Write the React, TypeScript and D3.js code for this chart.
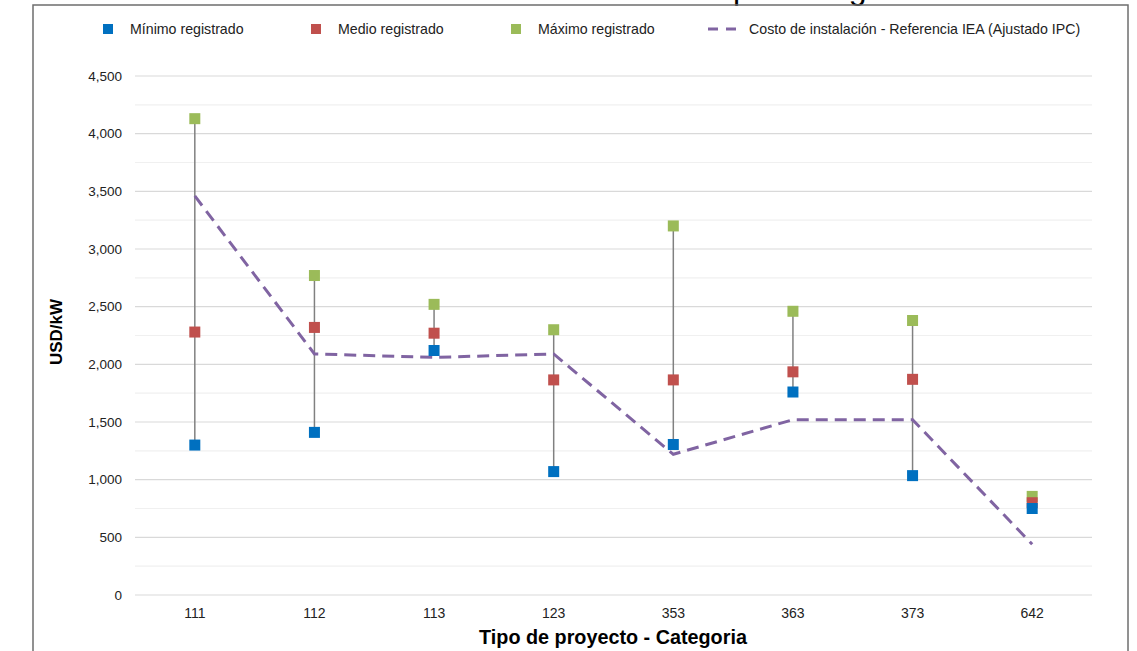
import React from "react";
import * as d3 from "d3";

const categories = ["111", "112", "113", "123", "353", "363", "373", "642"];
const minimo = [1300, 1410, 2120, 1070, 1305, 1760, 1035, 750];
const medio = [2280, 2320, 2270, 1865, 1865, 1935, 1870, 800];
const maximo = [4130, 2770, 2520, 2300, 3200, 2460, 2380, 855];
const iea = [3460, 2090, 2060, 2090, 1220, 1520, 1520, 440];
const yTicks = [0, 500, 1000, 1500, 2000, 2500, 3000, 3500, 4000, 4500];
const minorTicks = [250, 750, 1250, 1750, 2250, 2750, 3250, 3750, 4250];

const W = 1137;
const H = 651;
const FONT = "'Liberation Sans', Arial, sans-serif";
const BLUE = "#0070C0";
const RED = "#C0504D";
const GREEN = "#9BBB59";
const PURPLE = "#8064A2";

export default function App() {
  const x = d3.scaleBand<string>().domain(categories).range([135, 1092]);
  const y = d3.scaleLinear().domain([0, 4500]).range([595, 76]);
  const cx = (c: string) => (x(c) as number) + x.bandwidth() / 2;
  const line = d3
    .line<number>()
    .x((_, i) => cx(categories[i]))
    .y((d) => y(d));
  const ms = 11;
  const fmt = d3.format(",");

  const legend = [
    { label: "Mínimo registrado", color: BLUE, mx: 108, tx: 130 },
    { label: "Medio registrado", color: RED, mx: 316, tx: 338 },
    { label: "Máximo registrado", color: GREEN, mx: 516, tx: 538 },
  ];

  return (
    <svg
      width={W}
      height={H}
      style={{ position: "absolute", left: 0, top: 0, display: "block", background: "#fff" }}
      fontFamily={FONT}
    >
      <rect x={0} y={0} width={W} height={H} fill="#fff" />
      <text x={436} y={-1.5} fontSize={32} fill="#000">
        Costo de instalación por categoría
      </text>
      <rect x={33} y={5} width={1095} height={700} fill="none" stroke="#6e6e6e" strokeWidth={1.5} />

      {minorTicks.map((t) => (
        <line key={"m" + t} x1={135} x2={1092} y1={y(t)} y2={y(t)} stroke="#f0f0f0" strokeWidth={1.2} />
      ))}
      {yTicks.map((t) => (
        <g key={t}>
          <line x1={135} x2={1092} y1={y(t)} y2={y(t)} stroke="#d9d9d9" strokeWidth={1.2} />
          <text x={122} y={y(t)} dy="0.35em" textAnchor="end" fontSize={13.5} fill="#222">
            {fmt(t)}
          </text>
        </g>
      ))}
      {categories.map((c) => (
        <text key={c} x={cx(c)} y={618} textAnchor="middle" fontSize={14} fill="#222">
          {c}
        </text>
      ))}

      {categories.map((c, i) => (
        <line
          key={"v" + c}
          x1={cx(c)}
          x2={cx(c)}
          y1={y(minimo[i])}
          y2={y(maximo[i])}
          stroke="#808080"
          strokeWidth={1.5}
        />
      ))}

      <path d={line(iea) as string} fill="none" stroke={PURPLE} strokeWidth={3} strokeDasharray="12,7" />

      {[
        { data: maximo, color: GREEN },
        { data: medio, color: RED },
        { data: minimo, color: BLUE },
      ].map((s) =>
        categories.map((c, i) => (
          <rect
            key={s.color + c}
            x={cx(c) - ms / 2}
            y={y(s.data[i]) - ms / 2}
            width={ms}
            height={ms}
            fill={s.color}
          />
        ))
      )}

      {legend.map((l) => (
        <g key={l.label}>
          <rect x={l.mx - 5} y={24} width={10} height={10} fill={l.color} />
          <text x={l.tx} y={29} dy="0.35em" fontSize={14.2} fill="#222">
            {l.label}
          </text>
        </g>
      ))}
      <line x1={708} x2={743} y1={29} y2={29} stroke={PURPLE} strokeWidth={3} strokeDasharray="10,8" />
      <text x={749} y={29} dy="0.35em" fontSize={14.2} fill="#222">
        Costo de instalación - Referencia IEA (Ajustado IPC)
      </text>

      <text
        transform={`translate(62,332) rotate(-90)`}
        textAnchor="middle"
        fontSize={17}
        fontWeight="bold"
        fill="#000"
      >
        USD/kW
      </text>
      <text x={613} y={644} textAnchor="middle" fontSize={19.8} fontWeight="bold" fill="#000">
        Tipo de proyecto - Categoria
      </text>
    </svg>
  );
}
